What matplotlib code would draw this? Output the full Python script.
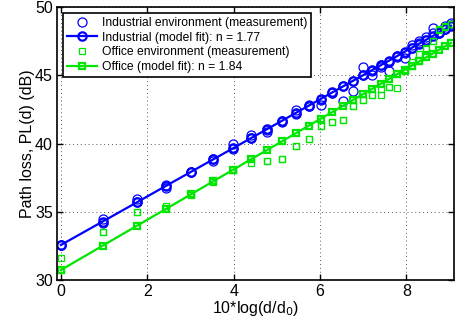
import matplotlib
matplotlib.use("Agg")
import matplotlib.pyplot as plt

# x = 10*log10(d/d0)
x_vals = [0.000, 0.969, 1.761, 2.430, 3.010, 3.522, 3.979, 4.393, 4.771, 5.119,
          5.441, 5.740, 6.021, 6.284, 6.532, 6.767, 6.990, 7.202, 7.404, 7.597,
          7.782, 7.959, 8.129, 8.293, 8.451, 8.603, 8.751, 8.893, 9.031]

# Industrial measurements (two per distance)
ind_meas_a = [32.60, 34.45, 35.95, 36.95, 37.90, 38.85, 39.95, 40.60, 41.00, 41.60,
              42.45, 42.80, 43.20, 43.70, 44.20, 44.60, 45.60, 45.35, 45.80, 46.00,
              46.40, 46.65, 47.20, 47.55, 47.85, 48.45, 48.20, 48.60, 48.85]
ind_meas_b = [32.55, 34.20, 35.70, 36.75, 37.95, 38.75, 39.60, 40.40, 40.85, 41.65,
              42.20, 42.75, 42.80, 43.70, 43.15, 43.85, 45.00, 45.00, 45.65, 45.30,
              46.35, 46.30, 47.05, 47.40, 47.60, 48.15, 48.15, 48.40, 48.70]

# Office measurements (two per distance)
off_meas_a = [31.60, 33.50, 35.00, 35.45, 36.30, 37.35, 38.10, 38.85, 38.75, 38.90,
              39.85, 40.35, 41.30, 41.60, 41.75, 42.75, 43.20, 43.55, 44.00, 44.15,
              44.05, 45.35, 45.70, 46.60, 46.95, 47.55, 48.40, 48.60, 48.75]
off_meas_b = [30.70, 33.50, 35.00, 35.25, 36.25, 37.20, 38.05, 38.60, 38.75, 38.90,
              39.85, 40.35, 41.30, 41.60, 41.75, 42.75, 43.20, 43.55, 43.60, 44.15,
              45.10, 45.40, 46.00, 46.05, 47.00, 47.55, 48.35, 48.55, 48.80]

# Model fits
ind_fit = [32.57, 34.29, 35.70, 36.90, 37.93, 38.84, 39.65, 40.39, 41.06, 41.68,
           42.26, 42.79, 43.29, 43.76, 44.20, 44.62, 45.01, 45.39, 45.75, 46.09,
           46.42, 46.74, 47.04, 47.33, 47.61, 47.88, 48.15, 48.40, 48.65]
off_fit = [30.73, 32.52, 33.98, 35.21, 36.28, 37.23, 38.07, 38.84, 39.53, 40.17,
           40.77, 41.32, 41.84, 42.32, 42.78, 43.21, 43.63, 44.02, 44.39, 44.75,
           45.09, 45.41, 45.73, 46.03, 46.32, 46.60, 46.88, 47.14, 47.39]

labels = ["Industrial environment (measurement)",
          "Industrial (model fit): n = 1.77",
          "Office environment (measurement)",
          "Office (model fit): n = 1.84"]
x_ticks = [0, 2, 4, 6, 8]
y_ticks = [30, 35, 40, 45, 50]

plt.rcParams['font.family'] = ['Liberation Sans', 'DejaVu Sans']

BLUE = '#0000ff'
GREEN = '#00e600'

fig = plt.figure(figsize=(4.57, 3.23), dpi=100)
ax = fig.add_axes([0.1247, 0.1331, 0.8687, 0.8443])

ax.plot(x_vals + x_vals, ind_meas_a + ind_meas_b, linestyle='none', marker='o',
        markersize=6.5, markerfacecolor='none', markeredgecolor=BLUE,
        markeredgewidth=0.9, label=labels[0])
ax.plot(x_vals, ind_fit, color=BLUE, linewidth=1.6, marker='o', markersize=6,
        markerfacecolor='none', markeredgecolor=BLUE, markeredgewidth=1.6,
        label=labels[1])
ax.plot(x_vals + x_vals, off_meas_a + off_meas_b, linestyle='none', marker='s',
        markersize=5, markerfacecolor='none', markeredgecolor=GREEN,
        markeredgewidth=0.9, label=labels[2])
ax.plot(x_vals, off_fit, color=GREEN, linewidth=1.6, marker='s', markersize=5,
        markerfacecolor='none', markeredgecolor=GREEN, markeredgewidth=1.6,
        label=labels[3])

ax.set_xlim(-0.09, 9.1)
ax.set_ylim(30, 50)
ax.set_xticks(x_ticks)
ax.set_yticks(y_ticks)
ax.tick_params(direction='in', top=True, right=True, length=4, width=1,
               labelsize=11.5, pad=3)
ax.grid(True, linestyle=(0, (1, 3)), color='0.35', linewidth=0.7)
for s in ax.spines.values():
    s.set_linewidth(1.2)

ax.set_xlabel('10*log(d/d$_0$)', fontsize=11.5, labelpad=0)
ax.set_ylabel('Path loss, PL(d) (dB)', fontsize=11.5, labelpad=0)

leg = ax.legend(loc='upper left', bbox_to_anchor=(0.015, 0.98), borderaxespad=0,
                fontsize=8.7, handlelength=2.5, handletextpad=0.35,
                labelspacing=0.22, borderpad=0.35, fancybox=False,
                framealpha=1, edgecolor='black')
leg.get_frame().set_linewidth(1.2)

fig.savefig('out.png', dpi=100)
